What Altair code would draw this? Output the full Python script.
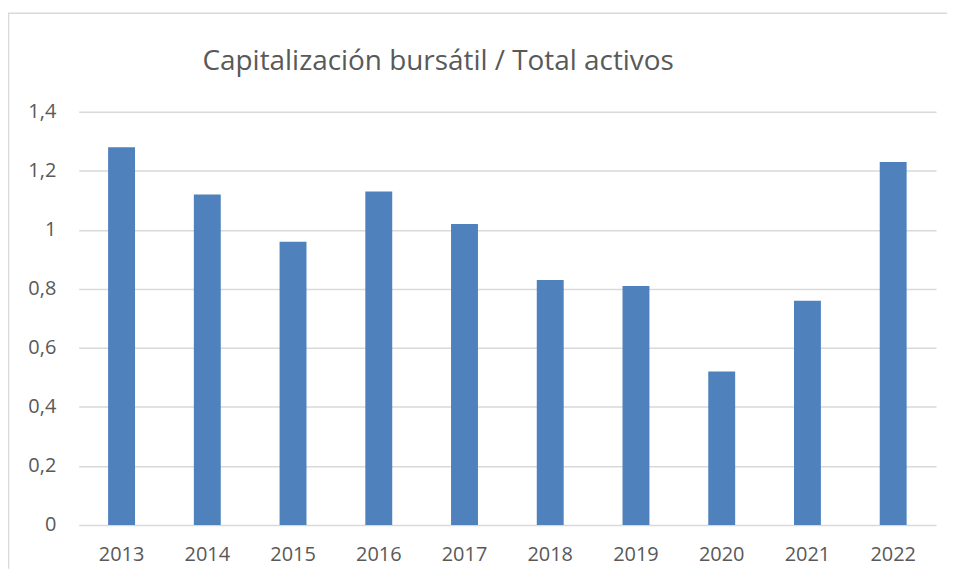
import altair as alt
import pandas as pd

years = ["2013", "2014", "2015", "2016", "2017", "2018", "2019", "2020", "2021", "2022"]
values = [1.28, 1.12, 0.96, 1.13, 1.02, 0.83, 0.81, 0.52, 0.76, 1.23]
y_ticks = [0, 0.2, 0.4, 0.6, 0.8, 1.0, 1.2, 1.4]
title_text = "Capitalización bursátil / Total activos"

df = pd.DataFrame({"year": years, "value": values})

TEXT = "#595959"
GRID = "#d9d9d9"
FONT = "Open Sans"

bars = alt.Chart(df).mark_bar(color="#4F81BD").encode(
    x=alt.X(
        "year:N",
        sort=years,
        title=None,
        scale=alt.Scale(paddingInner=0.686, paddingOuter=0.343),
        axis=alt.Axis(
            labelAngle=0, domain=False, ticks=False, grid=False,
            labelPadding=20, labelFontSize=20, labelColor=TEXT, labelFont=FONT,
        ),
    ),
    y=alt.Y(
        "value:Q",
        title=None,
        scale=alt.Scale(domain=[0, 1.4], nice=False),
        axis=alt.Axis(
            values=y_ticks, domain=False, ticks=False, tickSize=0,
            labelPadding=23, labelFontSize=20, labelColor=TEXT, labelFont=FONT,
            gridColor=GRID, gridWidth=1.3,
            labelExpr="replace(format(datum.value, '.1~f'), '.', ',')",
        ),
    ),
)

one = pd.DataFrame({"t": [title_text]})
top_border = alt.Chart(one).mark_rule(color=GRID, strokeWidth=1.5).encode(
    x=alt.value(-71), x2=alt.value(872), y=alt.value(-99)
)
left_border = alt.Chart(one).mark_rule(color=GRID, strokeWidth=1.5).encode(
    x=alt.value(-70.5), y=alt.value(-99), y2=alt.value(459)
)
title = alt.Chart(one).mark_text(
    font=FONT, fontSize=28, color=TEXT, align="center", baseline="alphabetic"
).encode(text="t:N", x=alt.value(361), y=alt.value(-42))

chart = alt.layer(top_border, left_border, title, bars).properties(
    width=861,
    height=415,
    padding={"left": 71, "top": 103, "right": 11, "bottom": 44},
    autosize="none",
).configure_view(stroke=None)

chart.save("out.html", embed_options={"renderer": "svg", "actions": False})
